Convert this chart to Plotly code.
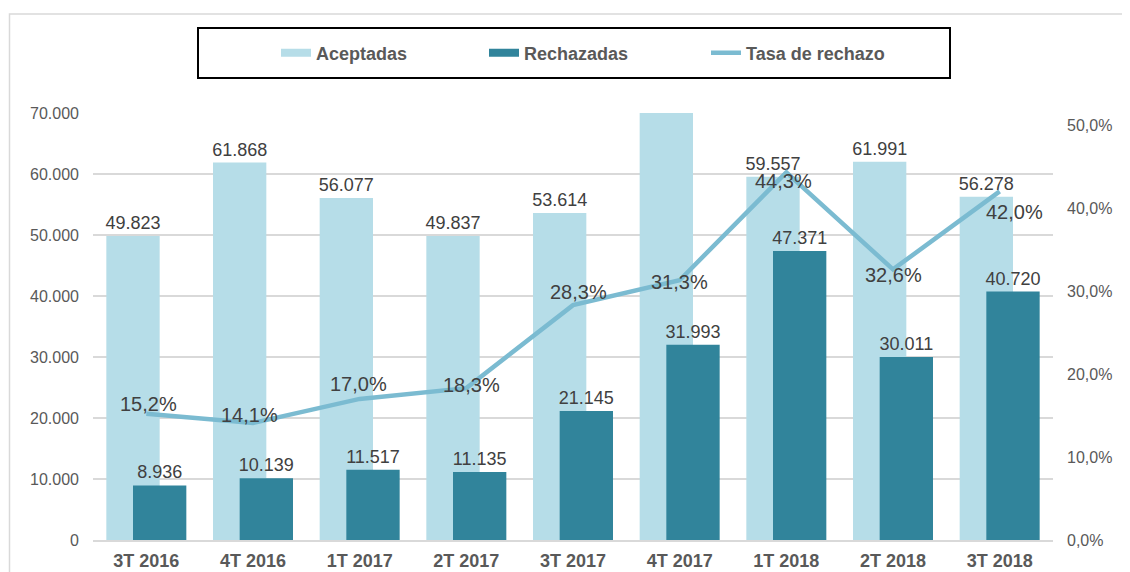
import plotly.graph_objects as go

categories = ["3T 2016", "4T 2016", "1T 2017", "2T 2017", "3T 2017",
              "4T 2017", "1T 2018", "2T 2018", "3T 2018"]
aceptadas = [49823, 61868, 56077, 49837, 53614, 70157, 59557, 61991, 56278]
rechazadas = [8936, 10139, 11517, 11135, 21145, 31993, 47371, 30011, 40720]
tasa = [0.152, 0.141, 0.170, 0.183, 0.283, 0.313, 0.443, 0.326, 0.420]

# pixel nudges of the rate labels relative to their points (style only)
tasa_label_dx = [2, -4, -1, 5, 5, 0, -3, 0, 15]
tasa_label_dy = [10, 8, 15, 3, 13, -2, -9, -6, -21]

C_LIGHT = "#B6DDE8"
C_DARK = "#31849B"
C_LINE = "#7BBBD1"
FONT = "Liberation Sans, Arial, sans-serif"

fig = go.Figure()
fig.add_trace(go.Bar(
    x=categories, y=aceptadas, name="Aceptadas",
    marker=dict(color=C_LIGHT, line=dict(width=0)),
    width=0.5, offset=-0.375,
    text=aceptadas, texttemplate="%{y:,.0f}", textposition="outside",
    constraintext="none", cliponaxis=False,
    textfont=dict(family=FONT, size=18, color="#404040"),
    showlegend=False,
))
fig.add_trace(go.Bar(
    x=categories, y=rechazadas, name="Rechazadas",
    marker=dict(color=C_DARK, line=dict(width=0)),
    width=0.5, offset=-0.125,
    text=rechazadas, texttemplate="%{y:,.0f}", textposition="outside",
    constraintext="none", cliponaxis=False,
    textfont=dict(family=FONT, size=18, color="#404040"),
    showlegend=False,
))
fig.add_trace(go.Scatter(
    x=categories, y=tasa, name="Tasa de rechazo", yaxis="y2",
    mode="lines", line=dict(color=C_LINE, width=4.5),
    cliponaxis=False,
    legend="legend3", showlegend=True,
))
# legend entries for the bars, drawn as wide flat keys (Excel style)
fig.add_trace(go.Scatter(
    x=[None], y=[None], name="Aceptadas", mode="lines",
    line=dict(color=C_LIGHT, width=8), legend="legend", showlegend=True,
    hoverinfo="skip",
))
fig.add_trace(go.Scatter(
    x=[None], y=[None], name="Rechazadas", mode="lines",
    line=dict(color=C_DARK, width=8), legend="legend2", showlegend=True,
    hoverinfo="skip",
))

# rate labels, anchored on the line's data points
annotations = []
for cat, val, dx, dy in zip(categories, tasa, tasa_label_dx, tasa_label_dy):
    annotations.append(dict(
        x=cat, y=val, xref="x", yref="y2",
        text=f"{val * 100:.1f}%".replace(".", ","),
        showarrow=False, xanchor="center", yanchor="middle",
        xshift=dx, yshift=dy,
        font=dict(family=FONT, size=20, color="#404040"),
    ))

# The page body has an 8px margin: screen coords = figure coords + 8
OFF = 8
W, H = 1130, 572
SL, SR, ST, SB = 93, 1053, 113, 540   # plot area on screen
L = SL - OFF
T = ST - OFF
R = W - (SR - OFF)
B = H - (SB - OFF)
pw = SR - SL
ph = SB - ST

def px(x):
    return (x - SL) / pw

def py(y):
    return (SB - y) / ph

legend_common = dict(
    orientation="h", yanchor="middle", xanchor="left",
    bgcolor="rgba(0,0,0,0)", borderwidth=0,
    font=dict(family=FONT, size=18, color="#595959", weight="bold"),
)

fig.update_layout(
    width=W, height=H,
    margin=dict(l=L, r=R, t=T, b=B, autoexpand=False),
    paper_bgcolor="white", plot_bgcolor="white",
    barmode="overlay",
    separators=",.",
    showlegend=True,
    font=dict(family=FONT),
    annotations=annotations,
    xaxis=dict(
        type="category", range=[-0.5, 8.5], automargin=False,
        showgrid=False, showline=True, linecolor="#D9D9D9", linewidth=2,
        ticks="", ticklabelstandoff=3,
        tickfont=dict(family=FONT, size=18, color="#595959", weight="bold"),
    ),
    yaxis=dict(
        range=[0, 70000], dtick=10000, tickformat=",.0f", automargin=False,
        showgrid=True, gridcolor="#D9D9D9", gridwidth=1.5,
        zeroline=False, showline=False, ticks="", ticklabelstandoff=13,
        tickfont=dict(family=FONT, size=16, color="#595959"),
    ),
    yaxis2=dict(
        overlaying="y", side="right", range=[0, 0.5145], dtick=0.1,
        tickformat=".1%", showgrid=False, zeroline=False, showline=False,
        ticks="", ticklabelstandoff=13, automargin=False,
        tickfont=dict(family=FONT, size=16, color="#595959"),
    ),
    legend=dict(x=px(276), y=py(53), **legend_common),
    legend2=dict(x=px(484), y=py(53), **legend_common),
    legend3=dict(x=px(706), y=py(53), **legend_common),
    shapes=[
        dict(type="rect", xref="paper", yref="paper",
             x0=px(9.5), x1=px(1150), y0=py(14), y1=py(600),
             line=dict(color="#D9D9D9", width=1.5), fillcolor="rgba(0,0,0,0)",
             layer="below"),
        dict(type="rect", xref="paper", yref="paper",
             x0=px(198), x1=px(950), y0=py(78), y1=py(28),
             line=dict(color="#000000", width=2), fillcolor="rgba(0,0,0,0)"),
    ],
)

fig.write_html("out.html")
